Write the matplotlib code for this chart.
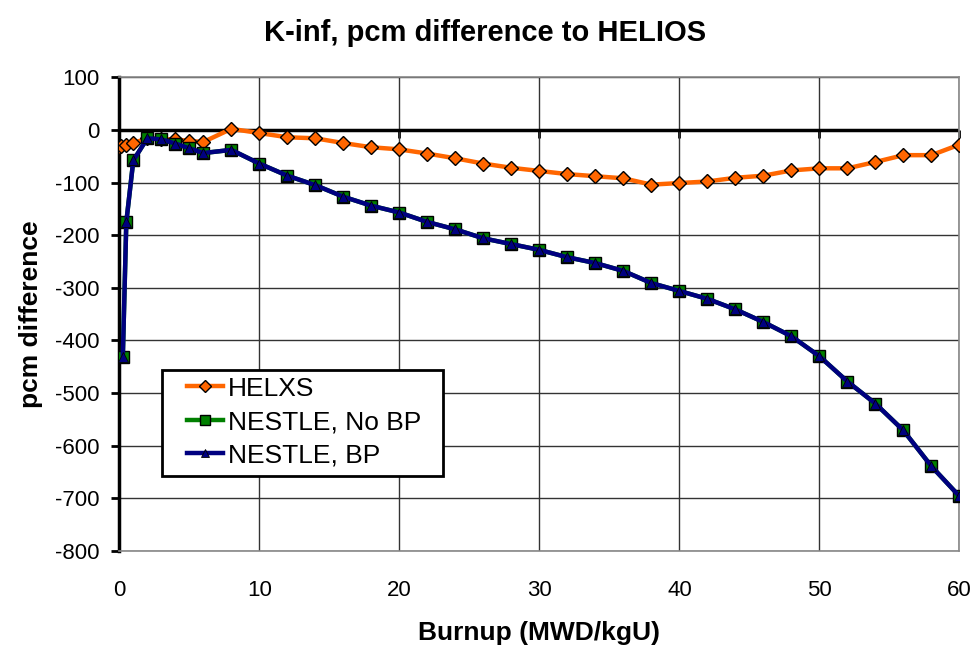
import matplotlib
matplotlib.use("Agg")
import matplotlib.pyplot as plt
from matplotlib.patches import Rectangle

plt.rcParams['font.family'] = ['Liberation Sans', 'DejaVu Sans']
plt.rcParams['axes.unicode_minus'] = False

# Burnup points (MWD/kgU)
burnup_helxs = [0, 0.1, 0.5, 1, 2, 3, 4, 5, 6, 8, 10, 12, 14, 16, 18, 20, 22, 24, 26, 28,
                30, 32, 34, 36, 38, 40, 42, 44, 46, 48, 50, 52, 54, 56, 58, 60]
helxs = [-32, -30, -28, -25, -16, -18, -18, -21, -23, 2, -6, -14, -16, -25, -33, -37, -45,
         -54, -64, -72, -78, -84, -88, -92, -104, -101, -98, -91, -87, -77, -73, -73, -61,
         -48, -48, -28]

burnup_nestle = [0.25, 0.5, 1, 2, 3, 4, 5, 6, 8, 10, 12, 14, 16, 18, 20, 22, 24, 26, 28,
                 30, 32, 34, 36, 38, 40, 42, 44, 46, 48, 50, 52, 54, 56, 58, 60]
nestle_no_bp = [-431, -175, -58, -16, -18, -26, -35, -44, -38, -64, -87, -105, -127, -144,
                -157, -175, -189, -206, -217, -228, -242, -253, -268, -291, -306, -321, -341,
                -365, -392, -430, -478, -520, -571, -639, -696]
nestle_bp = [-431, -175, -58, -16, -18, -26, -35, -44, -38, -64, -87, -105, -127, -144,
             -157, -175, -189, -206, -217, -228, -242, -253, -268, -291, -306, -321, -341,
             -365, -392, -430, -478, -520, -571, -639, -696]

x_ticks = [0, 10, 20, 30, 40, 50, 60]
y_ticks = [100, 0, -100, -200, -300, -400, -500, -600, -700, -800]

fig = plt.figure(figsize=(9.78, 6.58), dpi=100)
ax = fig.add_axes([0.122, 0.1626, 0.859, 0.72])

ax.set_xlim(0, 60)
ax.set_ylim(-800, 100)
ax.set_xticks(x_ticks)
ax.set_yticks(y_ticks)
ax.grid(True, color='#333333', linewidth=1.0)
ax.set_axisbelow(True)

for side in ('top', 'right', 'bottom'):
    ax.spines[side].set_color('#888888')
    ax.spines[side].set_linewidth(1.2)
ax.spines['left'].set_color('black')
ax.spines['left'].set_linewidth(2.5)

ax.tick_params(axis='x', length=0, pad=21, labelsize=16)
ax.tick_params(axis='y', length=6, width=2, direction='out', labelsize=16, pad=8)

# zero line acting as the category axis, with its own tick marks
ax.axhline(0, color='black', linewidth=2.5, zorder=2)
sec = ax.secondary_xaxis(800 / 900)
sec.spines['bottom'].set_visible(False)
sec.spines['top'].set_visible(False)
sec.set_xticks(x_ticks)
sec.xaxis.set_ticks_position('bottom')
sec.tick_params(axis='x', length=6, width=2, direction='out',
                labelbottom=False, labeltop=False)

ax.plot(burnup_helxs, helxs, color='#FF6600', linewidth=3.2, marker='D',
        markersize=7.5, markerfacecolor='#FF6600', markeredgecolor='black',
        markeredgewidth=1.0, label='HELXS', zorder=3)
ax.plot(burnup_nestle, nestle_no_bp, color='#008000', linewidth=3.2, marker='s',
        markersize=8, markerfacecolor='#008000', markeredgecolor='black',
        markeredgewidth=1.0, label='NESTLE, No BP', zorder=4)
ax.plot(burnup_nestle, nestle_bp, color='#000080', linewidth=3.2, marker='^',
        markersize=7, markerfacecolor='#000080', markeredgecolor='black',
        markeredgewidth=0.6, label='NESTLE, BP', zorder=5)

fig.text(0.496, 0.938, 'K-inf, pcm difference to HELIOS', fontsize=21,
         fontweight='bold', ha='center', va='baseline')
ax.set_xlabel('Burnup (MWD/kgU)', fontsize=19, fontweight='bold', labelpad=14)
ax.set_ylabel('pcm difference', fontsize=19, fontweight='bold', labelpad=9)

# legend box with generous side padding
ax.add_patch(Rectangle((0.0508, 0.158), 0.334, 0.224, transform=ax.transAxes,
                       facecolor='white', edgecolor='black', linewidth=2, zorder=6))
leg = ax.legend(loc='upper left', bbox_to_anchor=(0.0806, 0.368), fontsize=19,
                frameon=False, handlelength=1.35, handletextpad=0.2, borderpad=0,
                labelspacing=0.36, borderaxespad=0, markerscale=0.85)
leg.set_zorder(7)

fig.savefig('out.png', dpi=100)
